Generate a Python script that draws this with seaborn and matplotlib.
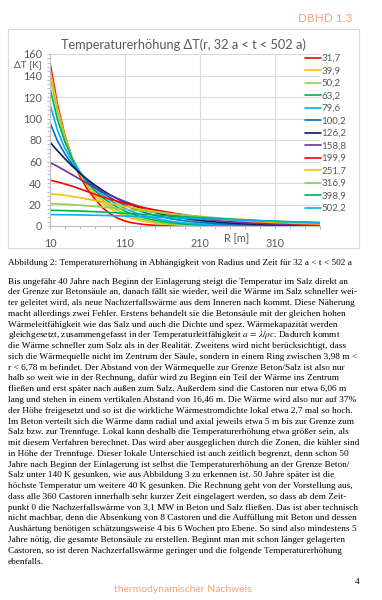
import matplotlib
matplotlib.use('Agg')
import matplotlib.pyplot as plt
import matplotlib.patches as patches
from matplotlib.ticker import MultipleLocator, FixedLocator
import pandas as pd
import seaborn as sns

# radius in m
radius = [10, 20, 30, 40, 50, 60, 70, 80, 90, 100, 110, 120, 135, 150, 170, 190, 210, 240, 270, 300, 330, 370]

# temperature rise in K, one list per time (years)
dT_31_7 = [152, 113, 84, 62, 46, 34, 25, 17, 11.5, 7.3, 4.6, 2.9, 1.4, 0.65, 0.22, 0.07, 0.02, 0, 0, 0, 0, 0]
dT_39_9 = [146, 110, 83, 63, 48, 37, 28, 21.5, 16.3, 12.3, 9.2, 6.9, 4.4, 2.7, 1.35, 0.65, 0.3, 0.1, 0.03, 0.01, 0, 0]
dT_50_2 = [139, 106, 81, 63, 49.5, 39, 30.5, 24, 18.8, 14.6, 11.3, 8.7, 5.8, 3.8, 2.0, 1.05, 0.55, 0.2, 0.06, 0.02, 0, 0]
dT_63_2 = [128, 99, 78, 62, 50, 40.5, 33, 26.5, 21.5, 17.2, 13.8, 11, 7.7, 5.3, 3.1, 1.8, 1.0, 0.4, 0.15, 0.05, 0.02, 0]
dT_79_6 = [113, 89, 72, 60, 50, 42, 35, 29, 24, 19.8, 16.3, 13.3, 9.7, 7, 4.5, 2.8, 1.75, 0.8, 0.35, 0.15, 0.06, 0.02]
dT_100_2 = [96, 79, 67, 57, 49, 42, 36, 31, 26.5, 22.5, 19.3, 16.5, 12.8, 9.9, 6.9, 4.8, 3.3, 1.9, 1.05, 0.58, 0.32, 0.14]
dT_126_2 = [78, 70, 62.5, 55.5, 49, 43.2, 38, 33.3, 29, 25.3, 22, 19.2, 15.5, 12.5, 9.3, 6.9, 5.1, 3.2, 2.0, 1.2, 0.75, 0.38]
dT_158_8 = [59, 55.5, 51.5, 47.5, 43.5, 39.5, 35.7, 32, 28.7, 25.6, 22.8, 20.3, 16.9, 14.1, 11, 8.5, 6.6, 4.5, 3.0, 2.0, 1.3, 0.75]
dT_199_9 = [42.6, 41, 39, 37, 34.5, 32, 29.5, 27, 25, 23, 21, 19.3, 17, 15, 12.5, 10.3, 8.5, 6.3, 4.6, 3.3, 2.3, 1.4]
dT_251_7 = [30, 29.3, 28.5, 27.5, 26.3, 25, 23.7, 22.3, 21, 19.6, 18.3, 17, 15.2, 13.5, 11.5, 9.7, 8.2, 6.3, 4.8, 3.6, 2.7, 1.8]
dT_316_9 = [20.8, 20.5, 20.2, 19.8, 19.3, 18.8, 18.2, 17.6, 17, 16.3, 15.6, 14.9, 13.9, 12.8, 11.4, 10.1, 8.9, 7.2, 5.8, 4.6, 3.6, 2.6]
dT_398_9 = [14.6, 14.5, 14.3, 14.1, 13.9, 13.6, 13.3, 13, 12.6, 12.2, 11.8, 11.4, 10.8, 10.2, 9.4, 8.6, 7.8, 6.7, 5.7, 4.7, 3.9, 3.0]
dT_502_2 = [10.6, 10.55, 10.5, 10.4, 10.3, 10.15, 10, 9.85, 9.65, 9.45, 9.25, 9.0, 8.65, 8.3, 7.8, 7.3, 6.8, 6.0, 5.3, 4.6, 4.0, 3.3]

times = ['31,7', '39,9', '50,2', '63,2', '79,6', '100,2', '126,2', '158,8',
         '199,9', '251,7', '316,9', '398,9', '502,2']
curves = [dT_31_7, dT_39_9, dT_50_2, dT_63_2, dT_79_6, dT_100_2, dT_126_2, dT_158_8,
          dT_199_9, dT_251_7, dT_316_9, dT_398_9, dT_502_2]
colors = ['#FF0000', '#FFC000', '#92D050', '#00B050', '#00B0F0', '#0070C0', '#002060', '#7030A0',
          '#FF0000', '#FFC000', '#92D050', '#00B050', '#00B0F0']

caption = 'Abbildung 2: Temperaturerhöhung in Abhängigkeit von Radius und Zeit für 32 a < t < 502 a'
body = [
    'Bis ungefähr 40 Jahre nach Beginn der Einlagerung steigt die Temperatur im Salz direkt an',
    'der Grenze zur Betonsäule an, danach fällt sie wieder, weil die Wärme im Salz schneller wei-',
    'ter geleitet wird, als neue Nachzerfallswärme aus dem Inneren nach kommt. Diese Näherung',
    'macht allerdings zwei Fehler. Erstens behandelt sie die Betonsäule mit der gleichen hohen',
    'Wärmeleitfähigkeit wie das Salz und auch die Dichte und spez. Wärmekapazität werden',
    'gleichgesetzt, zusammengefasst in der Temperaturleitfähigkeit $a\\,=\\,\\lambda/\\rho c$. Dadurch kommt',
    'die Wärme schneller zum Salz als in der Realität. Zweitens wird nicht berücksichtigt, dass',
    'sich die Wärmequelle nicht im Zentrum der Säule, sondern in einem Ring zwischen 3,98 m <',
    'r < 6,78 m befindet. Der Abstand von der Wärmequelle zur Grenze Beton/Salz ist also nur',
    'halb so weit wie in der Rechnung, dafür wird zu Beginn ein Teil der Wärme ins Zentrum',
    'fließen und erst später nach außen zum Salz. Außerdem sind die Castoren nur etwa 6,06 m',
    'lang und stehen in einem vertikalen Abstand von 16,46 m. Die Wärme wird also nur auf 37%',
    'der Höhe freigesetzt und so ist die wirkliche Wärmestromdichte lokal etwa 2,7 mal so hoch.',
    'Im Beton verteilt sich die Wärme dann radial und axial jeweils etwa 5 m bis zur Grenze zum',
    'Salz bzw. zur Trennfuge. Lokal kann deshalb die Temperaturerhöhung etwa größer sein, als',
    'mit diesem Verfahren berechnet. Das wird aber ausgeglichen durch die Zonen, die kühler sind',
    'in Höhe der Trennfuge. Dieser lokale Unterschied ist auch zeitlich begrenzt, denn schon 50',
    'Jahre nach Beginn der Einlagerung ist selbst die Temperaturerhöhung an der Grenze Beton/',
    'Salz unter 140 K gesunken, wie aus Abbildung 3 zu erkennen ist. 50 Jahre später ist die',
    'höchste Temperatur um weitere 40 K gesunken. Die Rechnung geht von der Vorstellung aus,',
    'dass alle 360 Castoren innerhalb sehr kurzer Zeit eingelagert werden, so dass ab dem Zeit-',
    'punkt 0 die Nachzerfallswärme von 3,1 MW in Beton und Salz fließen. Das ist aber technisch',
    'nicht machbar, denn die Absenkung von 8 Castoren und die Auffüllung mit Beton und dessen',
    'Aushärtung benötigen schätzungsweise 4 bis 6 Wochen pro Ebene. So sind also mindestens 5',
    'Jahre nötig, die gesamte Betonsäule zu erstellen. Beginnt man mit schon länger gelagerten',
    'Castoren, so ist deren Nachzerfallswärme geringer und die folgende Temperaturerhöhung',
    'ebenfalls.',
]

sns.set_theme(style='white')
plt.rcParams['font.family'] = ['Lato', 'DejaVu Sans']
plt.rcParams['mathtext.fontset'] = 'stix'

W, H = 382, 600
gray = '#595959'
salmon = '#F4A27C'

rows = []
for name, values in zip(times, curves):
    for r, v in zip(radius, values):
        rows.append({'R': r, 'dT': v, 'time': name})
df = pd.DataFrame(rows)

fig = plt.figure(figsize=(W / 100, H / 100), dpi=100)
fig.patch.set_facecolor('white')

# chart frame
fig.add_artist(patches.Rectangle((8 / W, 1 - 248 / H), 351 / W, 219 / H, transform=fig.transFigure,
                                 fill=False, edgecolor='#d9d9d9', lw=0.8))

ax = fig.add_axes([50 / W, 1 - 226 / H, 270 / W, 172 / H])
sns.lineplot(data=df, x='R', y='dT', hue='time', hue_order=times, palette=colors,
             estimator=None, sort=False, lw=1.2, ax=ax)

ax.set_xlim(10, 370)
ax.set_ylim(0, 160)
ax.xaxis.set_major_locator(FixedLocator([10, 110, 210, 310]))
ax.xaxis.set_minor_locator(FixedLocator(list(range(10, 371, 20))))
ax.yaxis.set_major_locator(MultipleLocator(20))
ax.yaxis.set_minor_locator(MultipleLocator(4))
ax.grid(True, which='major', color='#d9d9d9', lw=0.8)
ax.set_axisbelow(True)
for s in ['top', 'right']:
    ax.spines[s].set_visible(False)
for s in ['left', 'bottom']:
    ax.spines[s].set_color('#bfbfbf')
    ax.spines[s].set_linewidth(0.8)
ax.tick_params(which='both', direction='out', color='#bfbfbf', width=0.8, length=2.5,
               bottom=True, left=True, labelcolor=gray, labelsize=7.8, pad=3.5)
ax.tick_params(axis='x', which='major', pad=6)
ax.set_xlabel('')
ax.set_ylabel('')

handles, labels = ax.get_legend_handles_labels()
ax.get_legend().remove()
fig.legend(handles, labels, loc='upper left', bbox_to_anchor=(305 / W, 1 - 54 / H),
           frameon=False, fontsize=7, labelcolor=gray, handlelength=1.6,
           handletextpad=0.1, labelspacing=0.36, borderpad=0, borderaxespad=0)

fig.text(183 / W, 1 - 45 / H, 'Temperaturerhöhung ΔT(r, 32 a < t < 502 a)', ha='center', va='center',
         fontsize=9.2, color=gray)
fig.text(41.5 / W, 1 - 65 / H, 'ΔT [K]', ha='right', va='center', fontsize=7.2, color=gray)
fig.text(237 / W, 1 - 239 / H, 'R [m]', ha='center', va='center', fontsize=7.8, color=gray)

fig.text(352 / W, 1 - 19 / H, 'DBHD 1.3', ha='right', va='center', fontsize=8.5, color=salmon)
fig.text(183 / W, 1 - 589 / H, 'thermodynamischer Nachweis', ha='center', va='center',
         fontsize=7.5, color=salmon)

serif = ['Liberation Serif', 'DejaVu Serif']
fig.text(8 / W, 1 - 263 / H, caption, ha='left', va='center', fontsize=6.7, family=serif, color='black')
for i, line in enumerate(body):
    fig.text(8 / W, 1 - (281.5 + i * 10.77) / H, line, ha='left', va='center', fontsize=6.7,
             family=serif, color='black')
fig.text(357 / W, 1 - 582 / H, '4', ha='center', va='center', fontsize=6.7, family=serif, color='black')

fig.savefig('out.png', dpi=100, facecolor='white')
